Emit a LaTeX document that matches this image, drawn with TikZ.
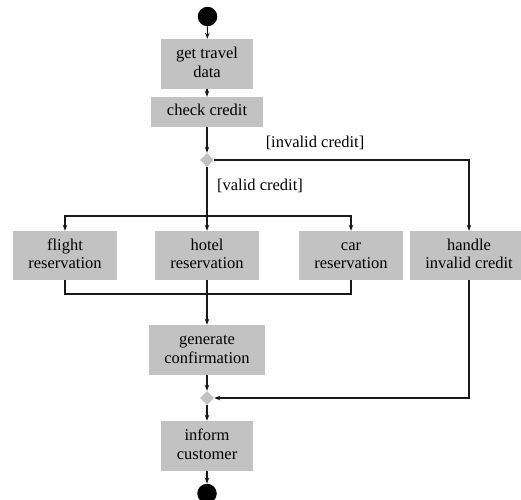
\documentclass[tikz,border=0pt]{standalone}
\usepackage{fontspec}
\setmainfont{Liberation Serif}
\usetikzlibrary{shapes.geometric,arrows.meta}
\definecolor{boxgray}{RGB}{194,194,194}
\newcommand{\tophalf}{\rule{0pt}{11.5pt}}
\newcommand{\bothalf}{\rule[-3.7pt]{0pt}{3.7pt}}
\newcommand{\tl}[2]{\tophalf #1\\ #2\bothalf}
\begin{document}
\begin{tikzpicture}[x=1pt,y=-1pt,
  act/.style={rectangle,fill=boxgray,inner sep=0pt,align=center,font=\fontsize{16.5}{18.5}\selectfont},
  dot/.style={circle,fill=black,inner sep=0pt,minimum size=19.5pt},
  dec/.style={diamond,fill=boxgray,inner sep=0pt,minimum size=14pt},
  conn/.style={line width=1.1pt,draw=black!90},
  arr/.style={conn,-{Stealth[length=6pt,width=4.5pt]}},
  lbl/.style={font=\fontsize{16.5}{18.5}\selectfont}]
\useasboundingbox (0,0) rectangle (521,499);
\node[dot] (start) at (207.5,16.5) {};
\node[act,minimum width=92pt,minimum height=50pt] (get) at (207,64) {\tl{get travel}{data}};
\node[act,minimum width=112pt,minimum height=30pt] (check) at (207,112) {\tophalf check credit\bothalf};
\node[dec] (d1) at (207,160) {};
\node[act,minimum width=104pt,minimum height=49pt] (flight) at (65,255.5) {\tl{flight}{reservation}};
\node[act,minimum width=104pt,minimum height=49pt] (hotel) at (207,255.5) {\tl{hotel}{reservation}};
\node[act,minimum width=104pt,minimum height=49pt] (car) at (351,255.5) {\tl{car}{reservation}};
\node[act,minimum width=118pt,minimum height=49pt] (handle) at (469,255.5) {\tl{handle}{invalid credit}};
\node[act,minimum width=116pt,minimum height=50pt] (gen) at (207,350) {\tl{generate}{confirmation}};
\node[dec] (d2) at (207,398) {};
\node[act,minimum width=92pt,minimum height=50pt] (inform) at (207,446) {\tl{inform}{customer}};
\node[dot] (end) at (207,493.5) {};
\coordinate (s) at (207,216);
\coordinate (j) at (207,294);
\coordinate (r1) at (469,160);
\coordinate (r2) at (469,398);
\node[lbl] (linv) at (315,143) {[invalid credit]};
\node[lbl] (lval) at (260,186) {[valid credit]};
\draw[arr] (start) -- (get);
\draw[arr] (get) -- (check);
\draw[arr] (check) -- (d1);
\draw[arr] (d1.east) -- (r1) -- (handle.north);
\draw[conn] (d1.south) -- (s);
\draw[arr] (s) -| (flight.north);
\draw[arr] (s) -| (car.north);
\draw[arr] (s) -- (hotel.north);
\draw[conn] (flight.south) |- (j);
\draw[conn] (car.south) |- (j);
\draw[arr] (hotel.south) -- (gen.north);
\draw[arr] (gen) -- (d2);
\draw[arr] (handle.south) -- (r2) -- (d2.east);
\draw[arr] (d2) -- (inform);
\draw[arr] (inform) -- (end);
\end{tikzpicture}
\end{document}
